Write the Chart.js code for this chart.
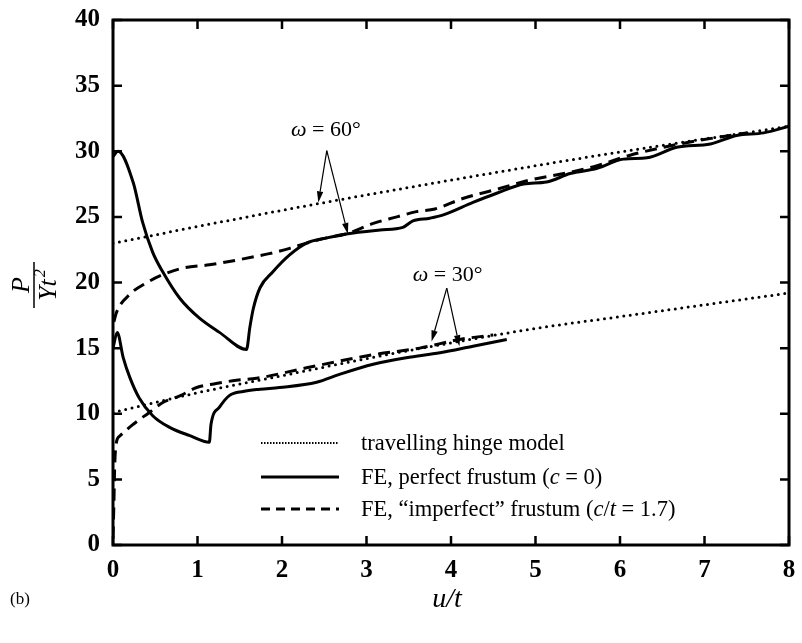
<!DOCTYPE html>
<html>
<head>
<meta charset="utf-8">
<script src="https://cdn.jsdelivr.net/npm/chart.js@4.4.1/dist/chart.umd.min.js"></script>
<style>
  body { margin: 0; background: #fff; }
  #wrap { width: 802px; height: 643px; }
</style>
</head>
<body>
<div id="wrap"><canvas id="frustum" width="802" height="643"></canvas></div>
<script>
// tick values
const xTicks = [0, 1, 2, 3, 4, 5, 6, 7, 8];
const yTicks = [0, 5, 10, 15, 20, 25, 30, 35, 40];

// travelling hinge model
const hinge60X = [0, 2, 4, 6, 8];
const hinge60Y = [23.0, 25.5, 27.8, 29.95, 31.9];
const hinge30X = [0, 1, 2, 3, 4, 5, 6, 7, 8];
const hinge30Y = [10.1, 11.6, 12.9, 14.2, 15.4, 16.5, 17.4, 18.3, 19.2];

// FE, perfect frustum
const perfect60X = [0, 0.06, 0.24, 0.35, 0.47, 0.59, 0.79, 1.02, 1.26, 1.58, 1.62, 1.66, 1.74, 1.89, 2.09, 2.29, 2.53, 2.76, 3.16, 3.43, 3.55, 3.75, 3.91, 4.26, 4.54, 4.86, 5.13, 5.41, 5.73, 6.04, 6.32, 6.67, 7.07, 7.38, 7.70, 8.0];
const perfect60Y = [29.6, 30.0, 27.6, 24.6, 22.3, 20.8, 18.8, 17.3, 16.2, 14.9, 16.6, 18.0, 19.6, 20.8, 22.1, 23.0, 23.4, 23.7, 24.0, 24.2, 24.7, 24.9, 25.15, 26.1, 26.8, 27.5, 27.65, 28.3, 28.7, 29.4, 29.5, 30.3, 30.55, 31.2, 31.4, 31.9];
const perfect30X = [0, 0.05, 0.12, 0.2, 0.31, 0.47, 0.67, 0.91, 1.14, 1.16, 1.26, 1.38, 1.54, 1.74, 1.97, 2.41, 2.68, 3.08, 3.47, 3.87, 4.26, 4.66];
const perfect30Y = [15.0, 16.2, 14.3, 12.75, 11.2, 9.85, 8.96, 8.33, 7.83, 9.2, 10.5, 11.4, 11.7, 11.87, 12.0, 12.4, 13.0, 13.77, 14.27, 14.65, 15.15, 15.66];

// FE, "imperfect" frustum
const imperfect60X = [0.01, 0.04, 0.2, 0.39, 0.59, 0.83, 1.14, 1.46, 1.7, 1.85, 2.09, 2.29, 2.53, 2.76, 3.08, 3.36, 3.59, 3.81, 4.14, 4.54, 4.93, 5.41, 5.73, 6.12, 6.51, 6.91, 7.3, 7.5];
const imperfect60Y = [17.0, 17.7, 19.1, 19.95, 20.6, 21.1, 21.35, 21.7, 22.0, 22.2, 22.6, 23.0, 23.4, 23.7, 24.5, 25.0, 25.4, 25.6, 26.4, 27.1, 27.8, 28.4, 28.9, 29.7, 30.3, 30.8, 31.2, 31.4];
const imperfect30X = [0, 0.01, 0.02, 0.04, 0.08, 0.24, 0.43, 0.59, 0.79, 0.99, 1.22, 1.46, 1.7, 2.29, 3.08, 3.63, 4.1, 4.5];
const imperfect30Y = [0.5, 3, 6, 7.8, 8.3, 9.2, 10.1, 10.86, 11.36, 12.0, 12.3, 12.55, 12.7, 13.5, 14.5, 15.0, 15.66, 16.0];

// annotations: label position, arrow apex, two arrow tips (data units)
const notes = [
  { text: '60°', at: [2.52, 31.6], apex: [2.53, 30.05], tips: [[2.43, 26.1], [2.78, 23.7]] },
  { text: '30°', at: [3.96, 20.55], apex: [3.95, 19.57], tips: [[3.77, 15.5], [4.1, 15.15]] }
];

const legendItems = [
  { label: 'travelling hinge model', dash: [1.5, 1.5], width: 2 },
  { label: 'FE, perfect frustum (c = 0)', dash: [], width: 3 },
  { label: 'FE, \u201Cimperfect\u201D frustum (c/t = 1.7)', dash: [9, 6], width: 3 }
];

const pts = (xs, ys) => xs.map((v, i) => ({ x: v, y: ys[i] }));

const dotted = { borderDash: [0, 6.5], borderCapStyle: 'round', borderWidth: 3 };
const solid = { borderDash: [], borderWidth: 3 };
const dashed = { borderDash: [12, 7], borderWidth: 3 };

function line(data, style) {
  return Object.assign({
    data: data,
    borderColor: '#000',
    pointRadius: 0,
    fill: false,
    cubicInterpolationMode: 'monotone'
  }, style);
}

const serif = '"Liberation Serif", "DejaVu Serif", serif';

function arrow(ctx, x0, y0, x1, y1) {
  const ang = Math.atan2(y1 - y0, x1 - x0);
  const L = 11, W = 3.2;
  ctx.beginPath();
  ctx.moveTo(x0, y0);
  ctx.lineTo(x1 - L * Math.cos(ang), y1 - L * Math.sin(ang));
  ctx.stroke();
  ctx.beginPath();
  ctx.moveTo(x1, y1);
  ctx.lineTo(x1 - L * Math.cos(ang) + W * Math.sin(ang), y1 - L * Math.sin(ang) - W * Math.cos(ang));
  ctx.lineTo(x1 - L * Math.cos(ang) - W * Math.sin(ang), y1 - L * Math.sin(ang) + W * Math.cos(ang));
  ctx.closePath();
  ctx.fill();
}

const decor = {
  id: 'decor',
  afterDraw(chart) {
    const { ctx, chartArea: a, scales: { x, y } } = chart;
    ctx.save();
    ctx.strokeStyle = '#000';
    ctx.fillStyle = '#000';

    // frame and inward ticks
    ctx.lineWidth = 3;
    ctx.strokeRect(a.left, a.top, a.right - a.left, a.bottom - a.top);
    ctx.lineWidth = 2.5;
    ctx.beginPath();
    xTicks.forEach(v => {
      const px = x.getPixelForValue(v);
      ctx.moveTo(px, a.bottom); ctx.lineTo(px, a.bottom - 9);
      ctx.moveTo(px, a.top); ctx.lineTo(px, a.top + 9);
    });
    yTicks.forEach(v => {
      const py = y.getPixelForValue(v);
      ctx.moveTo(a.left, py); ctx.lineTo(a.left + 9, py);
      ctx.moveTo(a.right, py); ctx.lineTo(a.right - 9, py);
    });
    ctx.stroke();

    // omega annotations
    ctx.lineWidth = 1.2;
    notes.forEach(n => {
      const cx = x.getPixelForValue(n.at[0]);
      const cy = y.getPixelForValue(n.at[1]);
      ctx.textBaseline = 'middle';
      ctx.font = 'italic 22px ' + serif;
      const w1 = ctx.measureText('\u03C9').width;
      ctx.font = '22px ' + serif;
      const rest = ' = ' + n.text;
      const w2 = ctx.measureText(rest).width;
      let sx = cx - (w1 + w2) / 2;
      ctx.textAlign = 'left';
      ctx.font = 'italic 22px ' + serif;
      ctx.fillText('\u03C9', sx, cy);
      ctx.font = '22px ' + serif;
      ctx.fillText(rest, sx + w1, cy);
      const ax = x.getPixelForValue(n.apex[0]);
      const ay = y.getPixelForValue(n.apex[1]);
      n.tips.forEach(t => arrow(ctx, ax, ay, x.getPixelForValue(t[0]), y.getPixelForValue(t[1])));
    });

    // legend
    const lx0 = a.left + 148, lx1 = a.left + 226, tx = a.left + 248;
    const rows = [a.bottom - 102, a.bottom - 68, a.bottom - 36];
    legendItems.forEach((it, i) => {
      ctx.lineWidth = it.width;
      ctx.setLineDash(it.dash);
      ctx.beginPath();
      ctx.moveTo(lx0, rows[i]); ctx.lineTo(lx1, rows[i]);
      ctx.stroke();
    });
    ctx.setLineDash([]);
    ctx.textAlign = 'left';
    ctx.textBaseline = 'middle';
    const seg = (parts, px, py) => {
      parts.forEach(p => {
        ctx.font = (p[1] ? 'italic ' : '') + '22.5px ' + serif;
        ctx.fillText(p[0], px, py);
        px += ctx.measureText(p[0]).width;
      });
    };
    seg([['travelling hinge model', false]], tx, rows[0] + 1);
    seg([['FE, perfect frustum (', false], ['c', true], [' = 0)', false]], tx, rows[1] + 1);
    seg([['FE, \u201Cimperfect\u201D frustum (', false], ['c', true], ['/', false], ['t', true], [' = 1.7)', false]], tx, rows[2] + 1);

    // x title and panel tag
    ctx.textAlign = 'center';
    ctx.font = 'italic 28px ' + serif;
    ctx.fillText('u/t', 447, 600);
    ctx.textAlign = 'left';
    ctx.font = '17px ' + serif;
    ctx.fillText('(b)', 10, 600);

    // y title: P / (Y t^2), rotated
    ctx.save();
    ctx.translate(34, 285);
    ctx.rotate(-Math.PI / 2);
    ctx.textAlign = 'center';
    ctx.textBaseline = 'alphabetic';
    ctx.font = 'italic 26px ' + serif;
    ctx.fillText('P', 0, -5);
    ctx.lineWidth = 1.5;
    ctx.beginPath();
    ctx.moveTo(-23, 0); ctx.lineTo(23, 0);
    ctx.stroke();
    ctx.textAlign = 'left';
    const wy = ctx.measureText('Yt').width;
    ctx.fillText('Yt', -wy / 2 - 5, 22);
    ctx.font = 'italic 16px ' + serif;
    ctx.fillText('2', wy / 2 - 3, 11);
    ctx.restore();

    ctx.restore();
  }
};

new Chart(document.getElementById('frustum'), {
  type: 'line',
  data: {
    datasets: [
      line(pts(hinge60X, hinge60Y), dotted),
      line(pts(hinge30X, hinge30Y), dotted),
      line(pts(imperfect60X, imperfect60Y), dashed),
      line(pts(imperfect30X, imperfect30Y), dashed),
      line(pts(perfect60X, perfect60Y), solid),
      line(pts(perfect30X, perfect30Y), solid)
    ]
  },
  options: {
    responsive: false,
    animation: false,
    layout: { padding: { left: 0, top: 17, right: 13, bottom: 0 } },
    plugins: { legend: { display: false }, tooltip: { enabled: false } },
    scales: {
      x: {
        type: 'linear',
        min: 0, max: 8,
        afterFit: s => { s.height = 98; },
        afterBuildTicks: s => { s.ticks = xTicks.map(v => ({ value: v })); },
        grid: { display: false },
        border: { display: false },
        ticks: { color: '#000', padding: 3, maxRotation: 0, font: { family: serif, size: 25, weight: 'bold' } }
      },
      y: {
        min: 0, max: 40,
        afterFit: s => { s.width = 113; },
        afterBuildTicks: s => { s.ticks = yTicks.map(v => ({ value: v })); },
        grid: { display: false },
        border: { display: false },
        ticks: { color: '#000', padding: 5, font: { family: serif, size: 25, weight: 'bold' } }
      }
    }
  },
  plugins: [decor]
});
</script>
</body>
</html>
